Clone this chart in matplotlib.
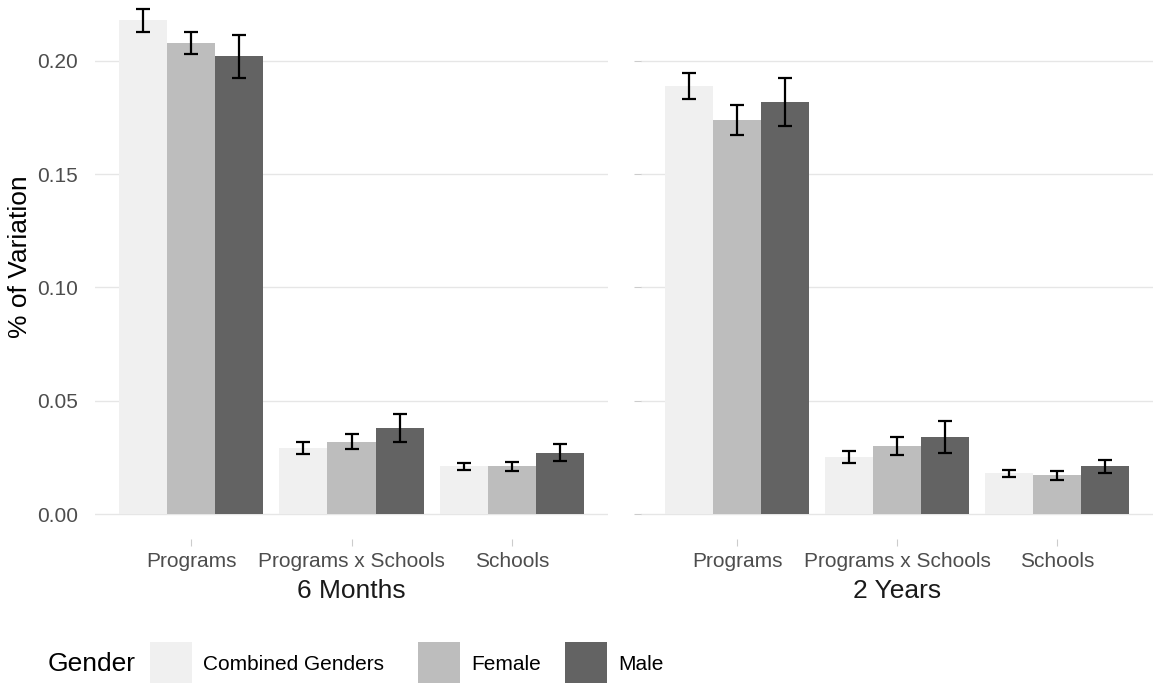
import matplotlib
matplotlib.use("Agg")
import matplotlib.pyplot as plt
from matplotlib.patches import Rectangle
import numpy as np

plt.rcParams["font.family"] = ["Liberation Sans", "DejaVu Sans"]

# ---------------------------------------------------------
# Data
# ---------------------------------------------------------
components = ["Programs", "Programs x Schools", "Schools"]
genders = ["Combined Genders", "Female", "Male"]
timepoints = ["6 Months", "2 Years"]

# share of variation per component, one list per gender
months6_combined = [0.218, 0.029, 0.021]
months6_female = [0.208, 0.032, 0.021]
months6_male = [0.202, 0.038, 0.027]
months6_combined_err = [0.0050, 0.0027, 0.0017]
months6_female_err = [0.0050, 0.0033, 0.0020]
months6_male_err = [0.0095, 0.0061, 0.0037]

years2_combined = [0.189, 0.025, 0.018]
years2_female = [0.174, 0.030, 0.017]
years2_male = [0.182, 0.034, 0.021]
years2_combined_err = [0.0057, 0.0027, 0.0015]
years2_female_err = [0.0066, 0.0040, 0.0020]
years2_male_err = [0.0105, 0.0070, 0.0030]

y_ticks = [0.00, 0.05, 0.10, 0.15, 0.20]

fill_colors = ["#F0F0F0", "#BDBDBD", "#636363"]

panels = [
    (timepoints[0],
     [months6_combined, months6_female, months6_male],
     [months6_combined_err, months6_female_err, months6_male_err]),
    (timepoints[1],
     [years2_combined, years2_female, years2_male],
     [years2_combined_err, years2_female_err, years2_male_err]),
]

# ---------------------------------------------------------
# Figure / panel geometry (pixels)
# ---------------------------------------------------------
W, H = 1153, 683
fig = plt.figure(figsize=(W / 100, H / 100), dpi=100)

panel_top, panel_bottom = 0, 539
panel_x = [(95, 608), (641, 1153)]
zero_px, scale_px = 514, 2265.0   # pixel row of y=0, pixels per unit

ylim = (-(panel_bottom - zero_px) / scale_px, (zero_px - panel_top) / scale_px)

axes = []
for x0, x1 in panel_x:
    ax = fig.add_axes([x0 / W, (H - panel_bottom) / H,
                       (x1 - x0) / W, (panel_bottom - panel_top) / H])
    axes.append(ax)

bar_w = 0.3
x = np.arange(len(components))

for i, (ax, (label, values, errors)) in enumerate(zip(axes, panels)):
    for j, (vals, errs) in enumerate(zip(values, errors)):
        pos = x + (j - 1) * bar_w
        ax.bar(pos, vals, width=bar_w, color=fill_colors[j], zorder=2,
               linewidth=0)
        ax.errorbar(pos, vals, yerr=errs, fmt="none", ecolor="black",
                    elinewidth=1.6, capsize=5, capthick=1.6, zorder=3)

    ax.set_xlim(-0.6, 2.6)
    ax.set_ylim(*ylim)
    ax.set_yticks(y_ticks)
    ax.grid(axis="y", color="#E6E6E6", linewidth=1.0, zorder=0)
    ax.set_axisbelow(True)
    for s in ax.spines.values():
        s.set_visible(False)

    ax.set_xticks(x)
    ax.set_xticklabels(components, fontsize=15, color="#4D4D4D")
    ax.tick_params(axis="x", length=5, width=0.8, color="#CCCCCC", pad=4.5)

    if i == 0:
        ax.set_yticklabels([f"{t:.2f}" for t in y_ticks], fontsize=15,
                           color="#4D4D4D")
        ax.tick_params(axis="y", length=0, pad=12)
    else:
        ax.set_yticklabels([])
        ax.tick_params(axis="y", length=5, width=0.8, color="#CCCCCC")

    # facet label underneath the category labels
    ax.text(0.5, -52 / (panel_bottom - panel_top), label,
            transform=ax.transAxes, ha="center", va="center",
            fontsize=19, color="#1A1A1A")

fig.text(20 / W, 1 - 257 / H, "% of Variation", rotation=90,
         ha="center", va="center", fontsize=19, color="black")

# ---------------------------------------------------------
# Legend along the bottom
# ---------------------------------------------------------
legend_y = 664
fig.text(48 / W, 1 - legend_y / H, "Gender", ha="left", va="center",
         fontsize=19, color="black")
key_x = [150, 418, 565]
for kx, name, col in zip(key_x, genders, fill_colors):
    fig.patches.append(Rectangle((kx / W, 0), 42 / W, (H - 642) / H,
                                 transform=fig.transFigure, facecolor=col,
                                 edgecolor="none"))
    fig.text((kx + 53) / W, 1 - legend_y / H, name, ha="left", va="center",
             fontsize=15, color="black")

fig.savefig("out.png", dpi=100)
